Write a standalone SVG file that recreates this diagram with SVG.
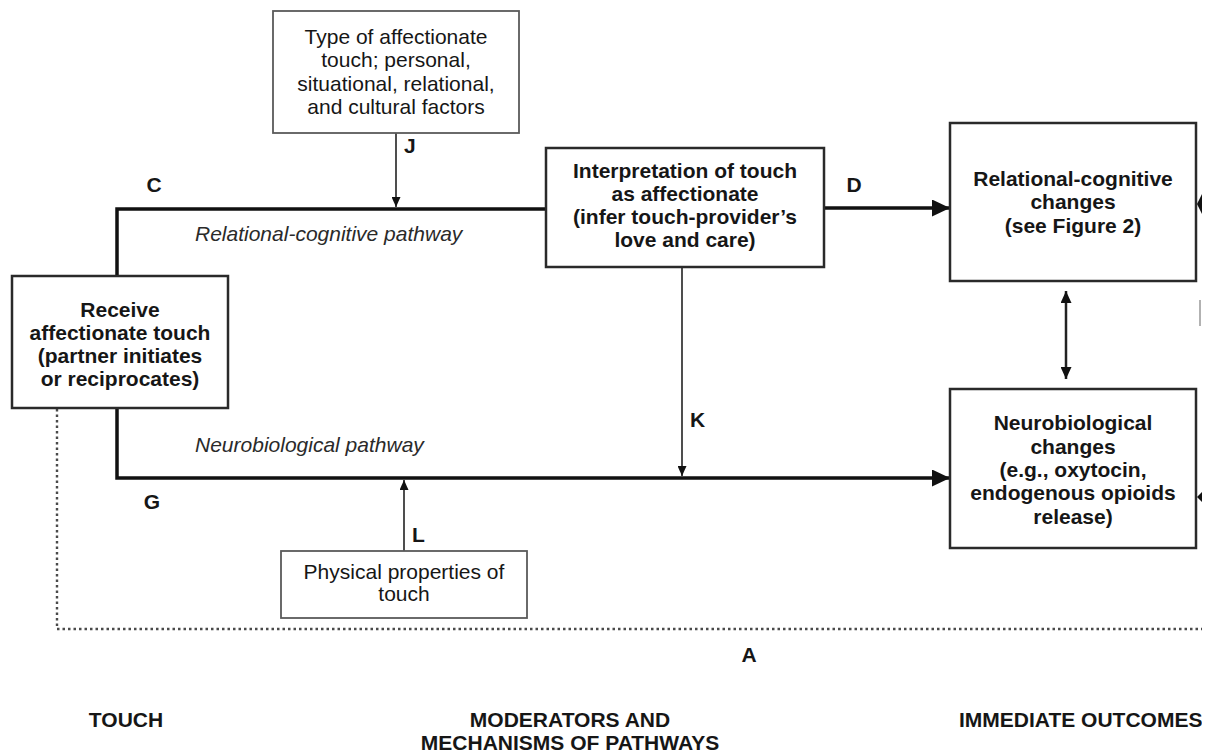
<svg xmlns="http://www.w3.org/2000/svg" width="1208" height="754" viewBox="0 0 1208 754">
<style>
text{font-family:"Liberation Sans",Arial,Helvetica,sans-serif;font-size:21px;fill:#161616}
.b{font-weight:bold}
.c{text-anchor:middle}
.i{font-style:italic;fill:#2a2a2a}
.box{fill:#fff;stroke:#2a2a2a;stroke-width:2.5}
.lbox{fill:#fff;stroke:#5a5a5a;stroke-width:1.8}
.thick{fill:none;stroke:#111;stroke-width:3.5}
.thin{fill:none;stroke:#222;stroke-width:1.6}
.dbl{fill:none;stroke:#222;stroke-width:2.5}
.dot{fill:none;stroke:#4a4a4a;stroke-width:2.4;stroke-dasharray:2.5 3}
</style>
<defs>
<marker id="big" markerUnits="userSpaceOnUse" markerWidth="19" markerHeight="17" refX="18" refY="8.5" orient="auto"><path d="M0,0 L18,8.5 L0,17 z" fill="#111"/></marker>
<marker id="sm" markerUnits="userSpaceOnUse" markerWidth="11" markerHeight="9" refX="10" refY="4.5" orient="auto"><path d="M0,0 L10,4.5 L0,9 z" fill="#111"/></marker>
<marker id="md" markerUnits="userSpaceOnUse" markerWidth="13" markerHeight="11" refX="12" refY="5.5" orient="auto-start-reverse"><path d="M0,0 L12,5.5 L0,11 z" fill="#111"/></marker>
</defs>
<rect width="1208" height="754" fill="#fff"/>

<g id="connectors">
<polyline class="thick" points="117,276 117,209 546,209"/>
<line class="thick" x1="824" y1="208" x2="950" y2="208" marker-end="url(#big)"/>
<polyline class="thick" points="117,408 117,478 950,478" marker-end="url(#big)"/>
<line class="thin" x1="396" y1="133" x2="396" y2="207" marker-end="url(#sm)"/>
<line class="thin" x1="682" y1="267" x2="682" y2="476" marker-end="url(#sm)"/>
<line class="thin" x1="404" y1="551" x2="404" y2="480" marker-end="url(#sm)"/>
<line class="dbl" x1="1066" y1="291" x2="1066" y2="379" marker-start="url(#md)" marker-end="url(#md)"/>
<polyline class="dot" points="57,409 57,629 1208,629"/>
<text class="b" x="154" y="192" text-anchor="middle">C</text>
<text class="b" x="404" y="153">J</text>
<text class="b" x="854" y="192" text-anchor="middle">D</text>
<text class="b" x="690" y="427">K</text>
<text class="b" x="152" y="509" text-anchor="middle">G</text>
<text class="b" x="412" y="542">L</text>
<text class="b" x="749" y="662" text-anchor="middle">A</text>
<text class="i" x="195" y="241">Relational-cognitive pathway</text>
<text class="i" x="195" y="452">Neurobiological pathway</text>
</g>

<g id="node-type">
<rect class="lbox" x="273" y="11" width="246" height="122"/>
<text class="c" x="396" y="44">Type of affectionate</text>
<text class="c" x="396" y="67">touch; personal,</text>
<text class="c" x="396" y="91">situational, relational,</text>
<text class="c" x="396" y="114">and cultural factors</text>
</g>

<g id="node-receive">
<rect class="box" x="12" y="276" width="216" height="132"/>
<text class="b c" x="120" y="317">Receive</text>
<text class="b c" x="120" y="340">affectionate touch</text>
<text class="b c" x="120" y="363">(partner initiates</text>
<text class="b c" x="120" y="386">or reciprocates)</text>
</g>

<g id="node-interpretation">
<rect class="box" x="546" y="148" width="278" height="119"/>
<text class="b c" x="685" y="178">Interpretation of touch</text>
<text class="b c" x="685" y="201">as affectionate</text>
<text class="b c" x="685" y="224">(infer touch-provider’s</text>
<text class="b c" x="685" y="247">love and care)</text>
</g>

<g id="node-relational">
<rect class="box" x="950" y="123" width="246" height="158"/>
<text class="b c" x="1073" y="186">Relational-cognitive</text>
<text class="b c" x="1073" y="209">changes</text>
<text class="b c" x="1073" y="233">(see Figure 2)</text>
</g>

<g id="node-neuro">
<rect class="box" x="950" y="389" width="246" height="159"/>
<text class="b c" x="1073" y="430">Neurobiological</text>
<text class="b c" x="1073" y="454">changes</text>
<text class="b c" x="1073" y="477">(e.g., oxytocin,</text>
<text class="b c" x="1073" y="500">endogenous opioids</text>
<text class="b c" x="1073" y="524">release)</text>
</g>

<g id="node-physical">
<rect class="lbox" x="281" y="551" width="246" height="67"/>
<text class="c" x="404" y="579">Physical properties of</text>
<text class="c" x="404" y="601">touch</text>
</g>

<g id="edge-fragments">
<polygon points="1197,204 1203,192 1203,216" fill="#111"/>
<line x1="1200" y1="300" x2="1200" y2="326" stroke="#999" stroke-width="1.5"/>
<polygon points="1197,497 1203,491 1203,503" fill="#111"/>
</g>

<g id="column-labels">
<text class="b c" x="126" y="727">TOUCH</text>
<text class="b c" x="570" y="727">MODERATORS AND</text>
<text class="b c" x="570" y="750">MECHANISMS OF PATHWAYS</text>
<text class="b" x="959" y="727">IMMEDIATE OUTCOMES</text>
</g>
<rect x="1202" y="0" width="6" height="754" fill="#fff"/>
</svg>
